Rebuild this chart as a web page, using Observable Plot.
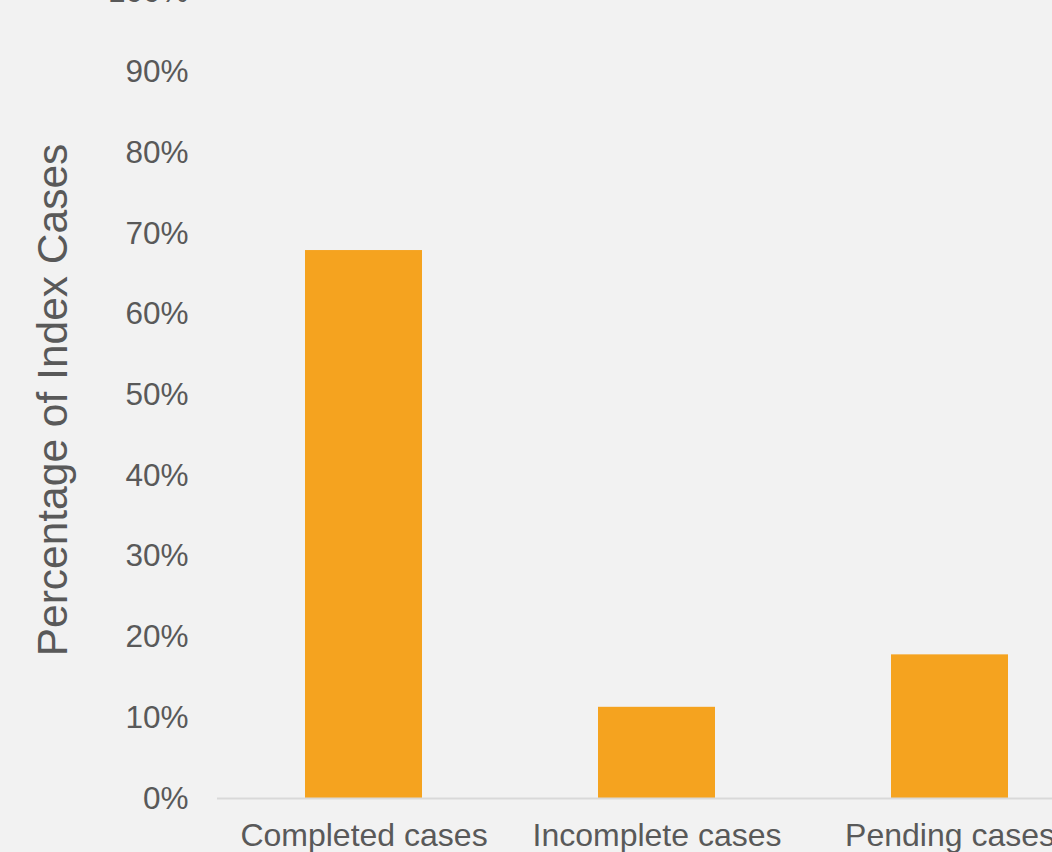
<!DOCTYPE html>
<html>
<head>
<meta charset="utf-8">
<script src="https://cdn.jsdelivr.net/npm/d3@7"></script>
<script src="https://cdn.jsdelivr.net/npm/@observablehq/plot@0.6"></script>
<style>
  html, body { margin: 0; padding: 0; background: #f2f2f2; width: 1052px; height: 852px; overflow: hidden; }
  #chart { position: absolute; left: 0; top: -60px; width: 1100px; }
  #chart svg { background: #f2f2f2; max-width: none !important; }
</style>
</head>
<body>
<div id="chart"></div>
<script>
const categories = ["Completed cases", "Incomplete cases", "Pending cases"];
const shares = [0.679, 0.113, 0.178];
const yTicks = [0, 0.1, 0.2, 0.3, 0.4, 0.5, 0.6, 0.7, 0.8, 0.9, 1.0];
const yTitle = "Percentage of Index Cases";

const data = categories.map((c, i) => ({category: c, share: shares[i]}));

const chart = Plot.plot({
  width: 1100,
  height: 918,
  marginLeft: 217,
  marginRight: 4,
  marginTop: 51,
  marginBottom: 60,
  style: {background: "#f2f2f2", fontFamily: "'Liberation Sans', Arial, sans-serif", color: "#595959"},
  x: {domain: categories, paddingInner: 0.6, paddingOuter: 0.3, label: null},
  y: {domain: [0, 1], label: null},
  marks: [
    Plot.barY(data, {x: "category", y: "share", fill: "#f5a31f"}),
    Plot.ruleY([0], {stroke: "#d9d9d9", strokeWidth: 2}),
    Plot.axisY({ticks: yTicks, tickFormat: d3.format(".0%"), tickSize: 0, tickPadding: 29, fontSize: 31.5, fill: "#595959", label: null}),
    Plot.axisX({tickSize: 0, tickPadding: 25, fontSize: 32, fill: "#595959", label: null}),
    Plot.text([yTitle], {frameAnchor: "left", textAnchor: "middle", lineAnchor: "middle", rotate: -90, dx: -164, dy: 5, fontSize: 42.5, fill: "#595959", text: d => d})
  ]
});
document.getElementById("chart").appendChild(chart);
</script>
</body>
</html>
